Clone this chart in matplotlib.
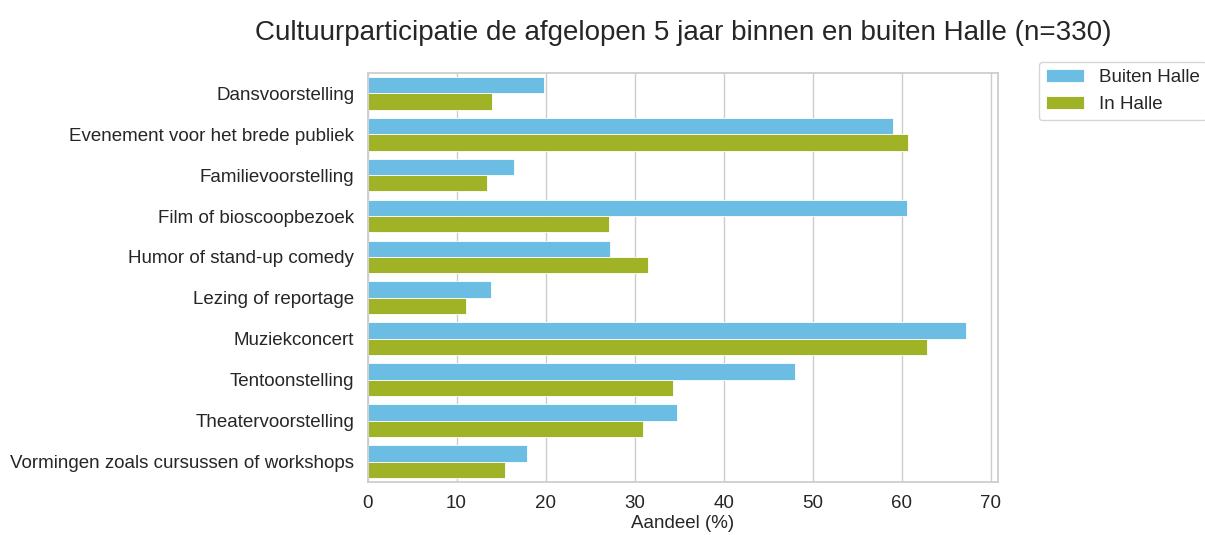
import numpy as np
import matplotlib.pyplot as plt
import seaborn as sns

categories = ["Dansvoorstelling", "Evenement voor het brede publiek", "Familievoorstelling",
              "Film of bioscoopbezoek", "Humor of stand-up comedy", "Lezing of reportage",
              "Muziekconcert", "Tentoonstelling", "Theatervoorstelling",
              "Vormingen zoals cursussen of workshops"]
buiten_halle = [19.8, 59.0, 16.5, 60.6, 27.2, 13.9, 67.2, 48.0, 34.8, 17.9]
in_halle = [14.0, 60.7, 13.4, 27.1, 31.5, 11.1, 62.9, 34.3, 31.0, 15.4]

sns.set_theme(style="whitegrid")
plt.rcParams['font.family'] = ['Liberation Sans', 'DejaVu Sans']

fig = plt.figure(figsize=(12.05, 5.35), dpi=100)
ax = fig.add_axes([0.305, 0.099, 0.523, 0.765])

y = np.arange(len(categories))
h = 0.4
ax.barh(y - h / 2, buiten_halle, height=h, color="#6bbde3", edgecolor="white", linewidth=0.6, label="Buiten Halle")
ax.barh(y + h / 2, in_halle, height=h, color="#a0b225", edgecolor="white", linewidth=0.6, label="In Halle")

ax.set_yticks(y)
ax.set_yticklabels(categories, fontsize=13.5, color="#262626")
ax.set_ylim(len(categories) - 0.5, -0.5)
ax.set_xlim(0, 70.8)
ax.set_xticks(range(0, 80, 10))
ax.tick_params(axis='x', labelsize=13.5, colors="#262626")
ax.grid(axis='y', visible=False)
ax.set_xlabel("Aandeel (%)", fontsize=13.5, color="#262626", labelpad=2)
ax.set_ylabel("")

fig.suptitle("Cultuurparticipatie de afgelopen 5 jaar binnen en buiten Halle (n=330)",
             x=0.567, y=0.962, fontsize=20, color="#262626")
ax.legend(loc="upper left", bbox_to_anchor=(1.05, 1.05), fontsize=13.5, frameon=True)

fig.savefig("out.png", dpi=100)
